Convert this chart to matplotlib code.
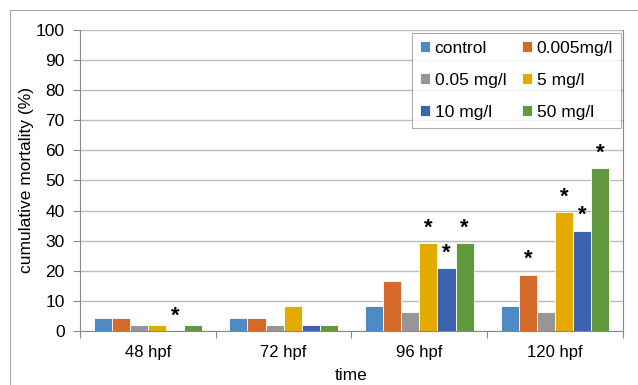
import numpy as np
import matplotlib
matplotlib.use("Agg")
import matplotlib.pyplot as plt
from matplotlib.lines import Line2D

plt.rcParams['font.family'] = ['Liberation Sans', 'DejaVu Sans']

# data
times = ['48 hpf', '72 hpf', '96 hpf', '120 hpf']
groups = ['control', '0.005mg/l', '0.05 mg/l', '5 mg/l', '10 mg/l', '50 mg/l']
control = [4.2, 4.2, 8.3, 8.3]
c0005 = [4.2, 4.2, 16.7, 18.75]
c005 = [2.1, 2.1, 6.25, 6.25]
c5 = [2.1, 8.3, 29.2, 39.6]
c10 = [0, 2.1, 20.8, 33.3]
c50 = [2.1, 2.1, 29.2, 54.2]
series = [control, c0005, c005, c5, c10, c50]
# significance marks (True = asterisk)
sig = [
    [False, False, False, False],
    [False, False, False, True],
    [False, False, False, False],
    [False, False, True, True],
    [True, False, True, True],
    [False, False, True, True],
]
colors = ['#4E8BC4', '#D4692A', '#969696', '#E3AB00', '#3C64AE', '#63993E']

fig = plt.figure(figsize=(6.38, 3.85), dpi=100)
ax = fig.add_axes([0.1254, 0.1403, 0.851, 0.7818])

x = np.arange(len(times))
w = 0.8 / len(groups)
handles = []
for i, (vals, col) in enumerate(zip(series, colors)):
    pos = x - 0.4 + w * (i + 0.5)
    b = ax.bar(pos, vals, width=w, color=col, edgecolor='white', linewidth=0.6,
               label=groups[i], zorder=3)
    handles.append(b)
    for p, v, s in zip(pos, vals, sig[i]):
        if s:
            ax.text(p, v + 5, '*', ha='center', va='center', fontsize=16,
                    fontweight='bold', zorder=4)

ax.set_xlim(-0.5, 3.5)
ax.set_ylim(0, 100)
ax.set_yticks(np.arange(0, 101, 10))
ax.set_xticks(x)
ax.set_xticklabels(times)
ax.set_xticks(np.arange(-0.5, 4, 1), minor=True)
ax.tick_params(axis='x', which='major', length=0, pad=10, labelsize=12)
ax.tick_params(axis='x', which='minor', length=5, color='#888888', width=0.8)
ax.tick_params(axis='y', length=5, color='#888888', width=0.8, labelsize=12.5, pad=6)
ax.grid(axis='y', color='#BBBBBB', linewidth=1.0, zorder=0)
for side in ['left', 'bottom', 'right']:
    ax.spines[side].set_color('#888888')
    ax.spines[side].set_linewidth(0.8)
ax.spines['top'].set_visible(False)

ax.set_ylabel('cumulative mortality (%)', fontsize=12.5, labelpad=1)
ax.set_xlabel('time', fontsize=12.5, labelpad=6)

# row-major order like the original legend
order = [0, 2, 4, 1, 3, 5]
leg = ax.legend([handles[k] for k in order], [groups[k] for k in order],
                ncol=2, loc='upper right', bbox_to_anchor=(0.996, 0.99),
                borderaxespad=0,
                fontsize=12.5, frameon=True, fancybox=False, handlelength=0.6,
                handleheight=0.6, handletextpad=0.25, columnspacing=0.9,
                labelspacing=0.98, borderpad=0.45)
leg.get_frame().set_edgecolor('#999999')
leg.get_frame().set_linewidth(0.8)
leg.set_zorder(5)

# outer chart frame (partially visible)
fig.add_artist(Line2D([10 / 638, 10 / 638], [0, 1 - 10 / 385], color='#AAAAAA', lw=0.8))
fig.add_artist(Line2D([10 / 638, 1], [1 - 10 / 385, 1 - 10 / 385], color='#AAAAAA', lw=0.8))

fig.savefig('out.png', dpi=100)
